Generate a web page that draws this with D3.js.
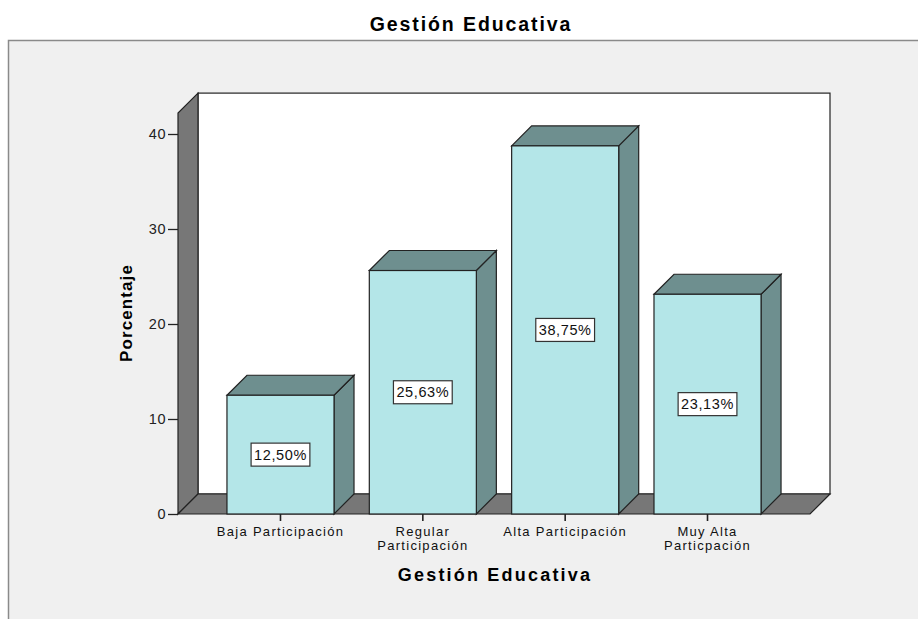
<!DOCTYPE html>
<html><head><meta charset="utf-8">
<script src="https://cdn.jsdelivr.net/npm/d3@7/dist/d3.min.js"></script>
<style>body{margin:0;background:#fff}svg{display:block}text{font-family:"Liberation Sans",Arial,sans-serif}</style>
</head><body>
<svg id="c" width="918" height="619"></svg>
<script>
const categories = [["Baja Participación"], ["Regular", "Participación"], ["Alta Participación"], ["Muy Alta", "Particpación"]];
const values = [12.50, 25.63, 38.75, 23.13];
const valueLabels = ["12,50%", "25,63%", "38,75%", "23,13%"];
const yTicks = [0, 10, 20, 30, 40];
const title = "Gestión Educativa";
const xTitle = "Gestión Educativa";
const yTitle = "Porcentaje";

const svg = d3.select("#c");
const left = 178, right = 810, bottom = 514, yTopVal = 42.2;
const dx = 20, dy = -20;
const y = d3.scaleLinear().domain([0, 40]).range([bottom, 134]);
const x = d3.scaleBand().domain(d3.range(values.length)).range([left, right]).paddingInner(0.248).paddingOuter(0.344);

// panel
svg.append("rect").attr("x", 8.5).attr("y", 40.5).attr("width", 1000).attr("height", 700)
  .attr("fill", "#f0f0f0").attr("stroke", "#8a8a8a").attr("stroke-width", 1.5);

svg.append("text").attr("x", 471).attr("y", 31).attr("text-anchor", "middle")
  .attr("font-weight", "bold").attr("font-size", 19.5).attr("letter-spacing", 1.9).text(title);

const wallFill = "#777777", edge = "#222";
const topY = y(yTopVal);
// back wall
svg.append("rect").attr("x", left + dx).attr("y", topY + dy).attr("width", right - left)
  .attr("height", bottom - topY).attr("fill", "#fff").attr("stroke", edge).attr("stroke-width", 1.2);
// left wall
svg.append("polygon").attr("points", [[left, bottom], [left, topY], [left + dx, topY + dy], [left + dx, bottom + dy]].join(" "))
  .attr("fill", wallFill).attr("stroke", edge).attr("stroke-width", 1.2);
// floor
svg.append("polygon").attr("points", [[left, bottom], [right, bottom], [right + dx, bottom + dy], [left + dx, bottom + dy]].join(" "))
  .attr("fill", wallFill).attr("stroke", edge).attr("stroke-width", 1.2);

const front = "#b4e6e8", shade = "#6e8f8f";
const bars = svg.append("g").selectAll("g").data(values).join("g");
bars.each(function (v, i) {
  const g = d3.select(this);
  const x0 = x(i), x1 = x(i) + x.bandwidth(), yt = y(v);
  g.append("polygon").attr("points", [[x1, yt], [x1 + dx, yt + dy], [x1 + dx, bottom + dy], [x1, bottom]].join(" "))
    .attr("fill", shade).attr("stroke", edge).attr("stroke-width", 1.2);
  g.append("polygon").attr("points", [[x0, yt], [x0 + dx, yt + dy], [x1 + dx, yt + dy], [x1, yt]].join(" "))
    .attr("fill", shade).attr("stroke", edge).attr("stroke-width", 1.2);
  g.append("rect").attr("x", x0).attr("y", yt).attr("width", x1 - x0).attr("height", bottom - yt)
    .attr("fill", front).attr("stroke", edge).attr("stroke-width", 1.2);
  const cx = x0 + x.bandwidth() / 2, cy = y(v / 2);
  const t = g.append("text").attr("x", cx).attr("y", cy + 5).attr("text-anchor", "middle")
    .attr("font-size", 14.5).attr("letter-spacing", 0.6).attr("fill", "#111").text(valueLabels[i]);
  const bb = t.node().getBBox();
  const w = bb.width + 6;
  g.insert("rect", "text").attr("x", cx - w / 2).attr("y", cy - 11.5).attr("width", w).attr("height", 23)
    .attr("fill", "#fff").attr("stroke", "#333").attr("stroke-width", 1.2);
});

// y axis
const ya = svg.append("g").attr("transform", `translate(${left},0)`)
  .call(d3.axisLeft(y).tickValues(yTicks).tickSize(10).tickPadding(2).tickFormat(d3.format("d")));
ya.select(".domain").remove();
ya.selectAll("line").attr("stroke", "#222").attr("stroke-width", 1.3);
ya.selectAll("text").attr("font-size", 14.5).attr("fill", "#222").attr("letter-spacing", 0.5)
  .style("font-family", '"Liberation Sans",Arial,sans-serif');

// x axis
const xa = svg.append("g").attr("transform", `translate(0,${bottom})`)
  .call(d3.axisBottom(x).tickSize(7).tickFormat(""));
xa.select(".domain").remove();
xa.selectAll("line").attr("stroke", "#222").attr("stroke-width", 1.6);
categories.forEach((lines, i) => {
  const t = svg.append("text").attr("x", x(i) + x.bandwidth() / 2).attr("y", bottom + 22)
    .attr("text-anchor", "middle").attr("font-size", 13).attr("letter-spacing", 1.3).attr("fill", "#111");
  lines.forEach((l, k) => t.append("tspan").attr("x", x(i) + x.bandwidth() / 2).attr("dy", k ? 14 : 0).text(l));
});

svg.append("text").attr("x", 495).attr("y", 581).attr("text-anchor", "middle")
  .attr("font-weight", "bold").attr("font-size", 18).attr("letter-spacing", 2.2).text(xTitle);
svg.append("text").attr("transform", "translate(132,313) rotate(-90)").attr("text-anchor", "middle")
  .attr("font-weight", "bold").attr("font-size", 17).attr("letter-spacing", 1.1).text(yTitle);
</script>
</body></html>
